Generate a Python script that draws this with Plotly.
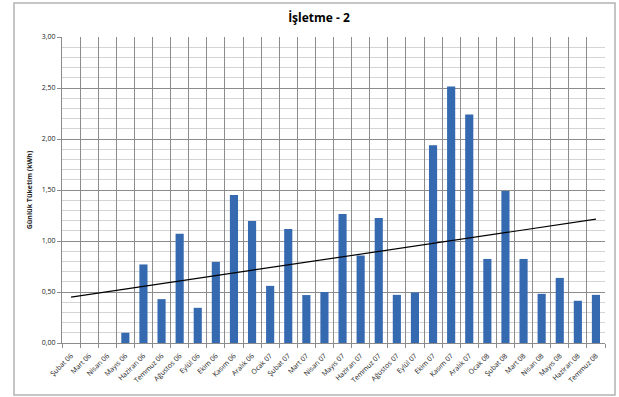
import numpy as np
import plotly.graph_objects as go

categories = ["Şubat 06", "Mart 06", "Nisan 06", "Mayıs 06", "Haziran 06", "Temmuz 06",
              "Ağustos 06", "Eylül 06", "Ekim 06", "Kasım 06", "Aralık 06", "Ocak 07",
              "Şubat 07", "Mart 07", "Nisan 07", "Mayıs 07", "Haziran 07", "Temmuz 07",
              "Ağustos 07", "Eylül 07", "Ekim 07", "Kasım 07", "Aralık 07", "Ocak 08",
              "Şubat 08", "Mart 08", "Nisan 08", "Mayıs 08", "Haziran 08", "Temmuz 08"]
values = [0.0, 0.0, 0.0, 0.10, 0.77, 0.43,
          1.07, 0.345, 0.795, 1.45, 1.195, 0.56,
          1.117, 0.47, 0.50, 1.264, 0.857, 1.225,
          0.472, 0.495, 1.938, 2.515, 2.241, 0.824,
          1.489, 0.824, 0.482, 0.638, 0.414, 0.472]

title_text = "İşletme - 2"
y_title = "Günlük Tüketim (kWh)"

# linear trend line computed from the data
idx = np.arange(len(values))
slope, intercept = np.polyfit(idx, values, 1)
trend = slope * idx + intercept

W, H = 619, 397
L, R, T, B = 62, 14, 37, 54
pw, ph = W - L - R, H - T - B

def px_x(x):
    return (x - L) / pw

def px_y(y):
    return (H - B - y) / ph

font = "Open Sans"

fig = go.Figure()
fig.add_trace(go.Bar(
    x=categories, y=values,
    marker=dict(color="#3569b0", line=dict(width=0)),
    width=0.45,
    showlegend=False,
))
fig.add_trace(go.Scatter(
    x=categories, y=trend, mode="lines",
    line=dict(color="black", width=1.2),
    showlegend=False,
))

fig.update_layout(
    width=W, height=H,
    margin=dict(l=L, r=R, t=T, b=B),
    paper_bgcolor="white", plot_bgcolor="white",
    separators=", ",
    title=dict(text="<b>" + title_text + "</b>", x=px_x(319), xref="paper",
               xanchor="center", y=1 - 18 / H, yanchor="middle",
               font=dict(family=font, size=12, color="black")),
    shapes=[dict(type="rect", xref="paper", yref="paper",
                 x0=px_x(14), x1=px_x(615), y0=px_y(395), y1=px_y(3),
                 line=dict(color="#b3b3b3", width=1.5), layer="below")],
)
fig.update_xaxes(
    type="category", tickson="boundaries",
    showgrid=True, gridcolor="#8c8c8c", gridwidth=1,
    showline=True, linecolor="#8c8c8c", linewidth=1,
    ticks="outside", ticklen=4, tickcolor="#8c8c8c",
    ticklabelstandoff=5,
    tickangle=-45, tickfont=dict(family=font, size=7, color="#222222"),
    range=[-0.5, len(categories) - 0.5],
)
fig.update_yaxes(
    range=[0, 3], dtick=0.5, tickformat=".2f",
    showgrid=True, gridcolor="#8c8c8c", gridwidth=1,
    showline=True, linecolor="#8c8c8c", linewidth=1,
    ticks="outside", ticklen=4, tickcolor="#8c8c8c",
    tickfont=dict(family=font, size=7, color="#222222"),
    minor=dict(dtick=0.1, showgrid=True, gridcolor="#d4d4d4", gridwidth=1),
    title=dict(text="<b>" + y_title + "</b>", standoff=8,
               font=dict(family=font, size=7, color="#222222")),
    zeroline=False,
)

fig.write_html("out.html")
